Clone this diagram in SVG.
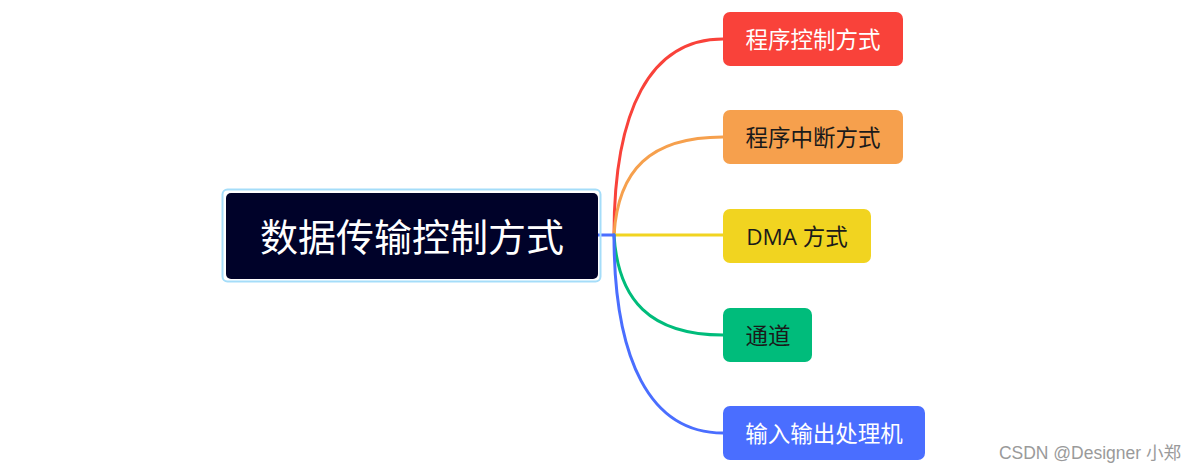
<svg xmlns="http://www.w3.org/2000/svg" width="1196" height="473" viewBox="0 0 1196 473">
<style>
.lbl{font-family:"Open Sans","Noto Sans CJK SC",sans-serif;font-size:22.5px;text-anchor:middle;dominant-baseline:central}
.w{fill:#ffffff}.d{fill:#1a1a1a}
.c{fill:none;stroke-width:3;stroke-linecap:round}
</style>
<rect width="1196" height="473" fill="#ffffff"/>
<g id="connectors">
<path class="c" d="M614,235 C614,110 650,39 723,39" stroke="#F9423A"/>
<path class="c" d="M614,235 C618,170 650,137 723,137" stroke="#F6A04D"/>
<path class="c" d="M614,235 L723,235" stroke="#F1D420"/>
<path class="c" d="M614,235 C618,300 650,335 723,335" stroke="#00BC7B"/>
<path class="c" d="M614,235 C614,360 650,433 723,433" stroke="#4A6EFF"/>
<path class="c" d="M598,235 L614,235" stroke="#4A6EFF"/>
</g>
<g id="root">
<rect x="222.5" y="189.5" width="378" height="92" rx="5" fill="none" stroke="#A5DDF9" stroke-width="2"/>
<rect x="226" y="193" width="372" height="86" rx="5" fill="#000229"/>
<text x="412" y="236" class="lbl w" style="font-size:38px">数据传输控制方式</text>
</g>
<g id="n1">
<rect x="723" y="12" width="180" height="54" rx="7" fill="#F9423A"/>
<text x="813" y="39" class="lbl w">程序控制方式</text>
</g>
<g id="n2">
<rect x="723" y="110" width="180" height="54" rx="7" fill="#F6A04D"/>
<text x="813" y="137" class="lbl d">程序中断方式</text>
</g>
<g id="n3">
<rect x="723" y="209" width="148" height="54" rx="7" fill="#F1D420"/>
<text x="797" y="236" class="lbl d">DMA 方式</text>
</g>
<g id="n4">
<rect x="723" y="308" width="89" height="54" rx="7" fill="#00BC7B"/>
<text x="768" y="335" class="lbl d">通道</text>
</g>
<g id="n5">
<rect x="723" y="406" width="202" height="54" rx="7" fill="#4A6EFF"/>
<text x="824" y="433" class="lbl w">输入输出处理机</text>
</g>
<text x="1181" y="459" style="font-family:'Liberation Sans','Noto Sans CJK SC',sans-serif;font-size:17.5px;text-anchor:end" fill="#9a9a9a">CSDN @Designer 小郑</text>
</svg>
